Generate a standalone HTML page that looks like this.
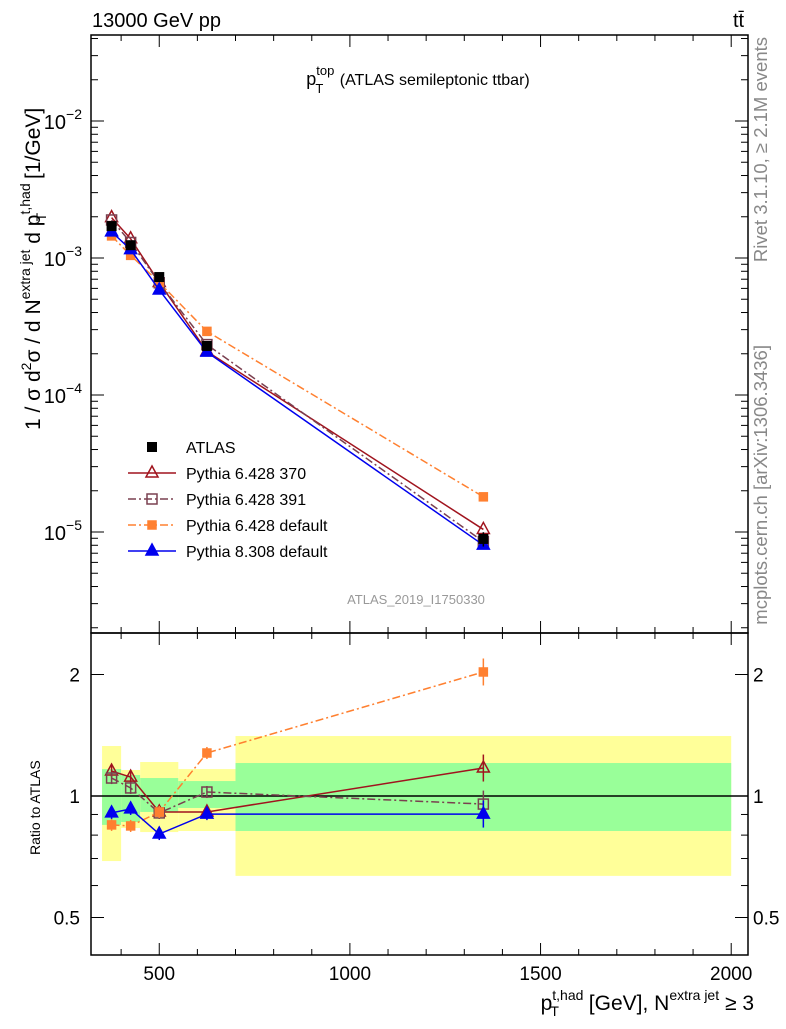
<!DOCTYPE html>
<html><head><meta charset="utf-8"><style>
body{margin:0;background:#fff;}
svg{font-family:"Liberation Sans",sans-serif;}
</style></head><body>
<svg id="c" width="786" height="1024" viewBox="0 0 786 1024" xmlns="http://www.w3.org/2000/svg">
<text x="92" y="27" font-size="20">13000 GeV pp</text>
<text x="733" y="27" font-size="20">tt̄</text>
<text x="418" y="85" font-size="18" text-anchor="middle">p<tspan font-size="13" dy="-10">top</tspan><tspan font-size="13" dx="-19" dy="18">T</tspan><tspan font-size="16" dx="12" dy="-8"> (ATLAS semileptonic ttbar)</tspan></text>
<text transform="translate(40,430) rotate(-90)" font-size="21">1 / σ d<tspan font-size="14" dy="-9">2</tspan><tspan dy="9">σ / d N</tspan><tspan font-size="14" dy="-10">extra jet</tspan><tspan dy="10"> d p</tspan><tspan font-size="14" dy="-10">t,had</tspan><tspan font-size="14" dx="-38" dy="16">T</tspan><tspan dx="28" dy="-6"> [1/GeV]</tspan></text>
<text transform="translate(767,37) rotate(-90)" font-size="18.5" fill="#888" text-anchor="end">Rivet 3.1.10, ≥ 2.1M events</text>
<text transform="translate(767,345) rotate(-90)" font-size="18.5" fill="#888" text-anchor="end">mcplots.cern.ch [arXiv:1306.3436]</text>
<text x="416" y="604" font-size="13" fill="#999" text-anchor="middle">ATLAS_2019_I1750330</text>
<text transform="translate(40,855) rotate(-90)" font-size="14">Ratio to ATLAS</text>
<text x="754" y="1010" font-size="21" text-anchor="end">p<tspan font-size="14" dy="-10">t,had</tspan><tspan font-size="14" dx="-33" dy="16">T</tspan><tspan dx="24" dy="-6"> [GeV], N</tspan><tspan font-size="14" dy="-10">extra jet</tspan><tspan dy="10"> ≥ 3</tspan></text>
<g id="g"></g>
</svg>
<script>
const edges=[350,400,450,550,700,2000];
const xc=[375,425,500,625,1350];
const atlas=[1.71e-3,1.24e-3,7.26e-4,2.28e-4,8.9e-6];
const atlasErr=[0.06,0.06,0.05,0.06,0.12];
const r370=[1.153,1.114,0.913,0.913,1.173];
const r391=[1.108,1.047,0.908,1.023,0.955];
const r6def=[0.848,0.843,0.913,1.278,2.029];
const r8=[0.908,0.929,0.805,0.902,0.902];
const yelLo=[0.690,0.833,0.814,0.819,0.634];
const yelHi=[1.330,1.160,1.214,1.166,1.408];
const grnLo=[0.848,0.862,0.913,0.934,0.819];
const grnHi=[1.166,1.127,1.108,1.089,1.207];
const NS="http://www.w3.org/2000/svg";
const g=document.getElementById('g');
const X=v=>-31.4+v*0.3813;
const Ym=v=>258-137*(Math.log10(v)+3);
const Yr=v=>796-121.5*Math.log2(v);
function el(t,a,p){const e=document.createElementNS(NS,t);for(const k in a)e.setAttribute(k,a[k]);(p||g).appendChild(e);return e;}
const L=91,R=748,T1=35,B1=633,B2=955;
for(let i=0;i<5;i++){
 const y=el('rect',{x:X(edges[i]),y:Yr(yelHi[i]),width:X(edges[i+1])-X(edges[i]),height:Yr(yelLo[i])-Yr(yelHi[i]),fill:'#ffff99'});
 
 
 const gr=el('rect',{x:X(edges[i]),y:Yr(grnHi[i]),width:X(edges[i+1])-X(edges[i]),height:Yr(grnLo[i])-Yr(grnHi[i]),fill:'#99ff99'});
 
 
}
el('line',{x1:L,x2:R,y1:Yr(1),y2:Yr(1),stroke:'#000','stroke-width':1.5});
el('rect',{x:L,y:T1,width:R-L,height:B1-T1,fill:'none',stroke:'#000','stroke-width':1.5});
el('rect',{x:L,y:B1,width:R-L,height:B2-B1,fill:'none',stroke:'#000','stroke-width':1.5});
for(let v=400;v<=2000;v+=100){const x=X(v),M=v%500==0,l=M?12:6;
 [[B1,-1],[T1,1],[B2,-1],[B1,1]].forEach(([yy,d])=>el('line',{x1:x,x2:x,y1:yy,y2:yy+d*l,stroke:'#000'}));
 if(M){const t=el('text',{x:x,y:980,'font-size':19,'text-anchor':'middle'});t.textContent=v;
 
 }}
for(let e=-6;e<=-1;e++)for(let m=1;m<10;m++){const v=m*Math.pow(10,e),y=Ym(v);if(y<T1||y>B1)continue;const l=m==1?13:7;
 el('line',{x1:L,x2:L+l,y1:y,y2:y,stroke:'#000'});el('line',{x1:R,x2:R-l,y1:y,y2:y,stroke:'#000'});
 if(m==1){const t=el('text',{x:82,y:y+8,'font-size':20,'text-anchor':'end'});t.innerHTML='10<tspan font-size="14" dy="-10">'+(e==-2?'−2':e==-3?'−3':e==-4?'−4':'−5')+'</tspan>';
 
 }}
[0.5,0.6,0.7,0.8,0.9,1,2].forEach(v=>{const y=Yr(v),M=(v==0.5||v==1||v==2),l=M?13:7;
 el('line',{x1:L,x2:L+l,y1:y,y2:y,stroke:'#000'});el('line',{x1:R,x2:R-l,y1:y,y2:y,stroke:'#000'});
 if(M){[[80,'end'],[753,'start']].forEach(([x,a])=>{const t=el('text',{x:x,y:y+7,'font-size':19,'text-anchor':a});t.textContent=v;
 
 });}});
const series=[
 {n:'pythia-6428-370',r:r370,c:'#a0141e',d:'',m:'tri-open'},
 {n:'pythia-6428-391',r:r391,c:'#7a4050',d:'8 3 2 3',m:'sq-open'},
 {n:'pythia-6428-default',r:r6def,c:'#ff8030',d:'8 3 2 3',m:'sq-fill'},
 {n:'pythia-8308-default',r:r8,c:'#0000ee',d:'',m:'tri-fill'}];
function marker(x,y,s,name){let e;
 if(s.m.startsWith('tri'))e=el('polygon',{points:`${x},${y-7} ${x-6},${y+4} ${x+6},${y+4}`,fill:s.m=='tri-fill'?s.c:'none',stroke:s.c,'stroke-width':1.5});
 else e=el('rect',{x:x-(s.m=='sq-fill'?4:5),y:y-(s.m=='sq-fill'?4:5),width:s.m=='sq-fill'?8:10,height:s.m=='sq-fill'?8:10,fill:s.m=='sq-fill'?s.c:'none',stroke:s.c,'stroke-width':1.5});
 
 }
series.forEach(s=>{
 const pm=xc.map((v,i)=>X(v)+','+Ym(atlas[i]*s.r[i])).join(' ');
 const pr=xc.map((v,i)=>X(v)+','+Yr(s.r[i])).join(' ');
 [pm,pr].forEach(p=>{const l=el('polyline',{points:p,fill:'none',stroke:s.c,'stroke-width':1.5,'stroke-dasharray':s.d});
 
 });
 xc.forEach((v,i)=>{const x=X(v),f=i==4?1.08:1.035;
  el('line',{x1:x,x2:x,y1:Yr(s.r[i]*f),y2:Yr(s.r[i]/f),stroke:s.c,'stroke-width':1.5});
  marker(x,Ym(atlas[i]*s.r[i]),s,s.n+'-point');
  marker(x,Yr(s.r[i]),s,s.n+'-ratio-point');});
});
xc.forEach((v,i)=>{const x=X(v),y=Ym(atlas[i]);
 el('line',{x1:x,x2:x,y1:Ym(atlas[i]*(1+atlasErr[i])),y2:Ym(atlas[i]*(1-atlasErr[i])),stroke:'#000','stroke-width':1.5});
 const r=el('rect',{x:x-5,y:y-5,width:10,height:10,fill:'#000'});
 
 });
const leg=[{t:'ATLAS',c:'#000',m:'atlas'}].concat(series.map((s,i)=>({t:['Pythia 6.428 370','Pythia 6.428 391','Pythia 6.428 default','Pythia 8.308 default'][i],s:s})));
leg.forEach((it,i)=>{const y=447+i*26;
 const grp=el('g',{});
 
 
 if(it.m=='atlas')el('rect',{x:147,y:y-5,width:10,height:10,fill:'#000'},grp);
 else{el('line',{x1:128,x2:176,y1:y,y2:y,stroke:it.s.c,'stroke-width':1.5,'stroke-dasharray':it.s.d},grp);marker(152,y,it.s,'legend-marker');}
 const t=el('text',{x:186,y:y+6,'font-size':16},grp);t.textContent=it.t;});
</script>
</body></html>
